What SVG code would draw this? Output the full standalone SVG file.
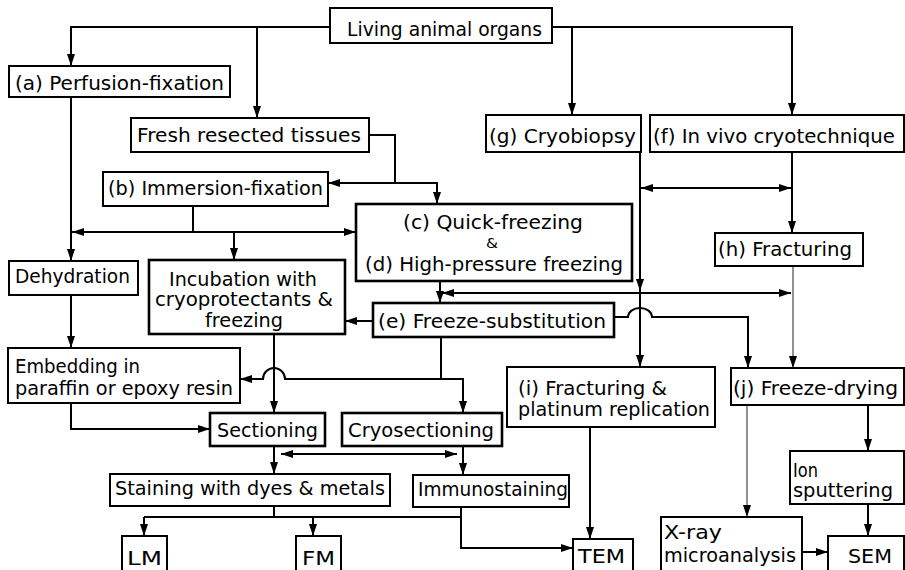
<svg xmlns="http://www.w3.org/2000/svg" width="905" height="570" viewBox="0 0 905 570">
  <defs>
    <marker id="arrow" viewBox="0 0 12 8" refX="12" refY="4" markerWidth="12" markerHeight="8" markerUnits="userSpaceOnUse" orient="auto-start-reverse">
      <path d="M0,0 L12,4 L0,8 z" fill="#000"/>
    </marker>
  </defs>
  <style>
    .box { fill: #fff; stroke: #000; stroke-width: 2; }
    .box.heavy { stroke-width: 2.6; }
    text { font-family: "DejaVu Sans", "Liberation Sans", sans-serif; font-size: 19px; fill: #000; }
    .amp { font-size: 14px; }
    .line { fill: none; stroke: #000; stroke-width: 2; }
    .thin { fill: none; stroke: #555; stroke-width: 1.3; }
    .end { marker-end: url(#arrow); }
    .both { marker-start: url(#arrow); marker-end: url(#arrow); }
  </style>

  <!-- connectors -->
  <g id="connectors">
    <path class="line end" d="M330,27 H71 V66"/>
    <path class="line end" d="M257,27 V118"/>
    <path class="line end" d="M552,27 H792 V115"/>
    <path class="line end" d="M572,27 V115"/>
    <path class="line end" d="M71,97 V261"/>
    <path class="line" d="M369,135 H395 V183"/>
    <path class="line both" d="M328,183 H437 V204"/>
    <path class="line" d="M193,206 V232"/>
    <path class="line both" d="M72,232 H356"/>
    <path class="line end" d="M234,232 V260"/>
    <path class="line end" d="M71,295 V348"/>
    <path class="line end" d="M274,334 V413"/>
    <path class="line end" d="M373,321 H345"/>
    <path class="line end" d="M440,281 V303"/>
    <path class="line" d="M441,337 V379"/>
    <path class="line both" d="M463,413 V379 H285 A11,11 0 0 0 263,379 H240"/>
    <path class="line end" d="M71,403 V429 H210"/>
    <path class="line end" d="M274,446 V474"/>
    <path class="line end" d="M463,446 V475"/>
    <path class="line both" d="M281,454 H457"/>
    <path class="line" d="M274,506 V517"/>
    <path class="line" d="M144,517 H461"/>
    <path class="line end" d="M144,517 V536"/>
    <path class="line end" d="M313,517 V536"/>
    <path class="line end" d="M461,507 V548 H573"/>
    <path class="line end" d="M590,427 V539"/>
    <path class="line end" d="M640,152 V367"/>
    <path class="line end" d="M640,270 V291"/>
    <path class="line both" d="M641,188 H791"/>
    <path class="line end" d="M792,152 V233"/>
    <path class="line both" d="M442,293 H791"/>
    <path class="thin end" d="M793,266 V368"/>
    <path class="line end" d="M614,317 H628 A12,9 0 0 1 652,317 H748 V368"/>
    <path class="thin end" d="M747,405 V517"/>
    <path class="line end" d="M868,405 V451"/>
    <path class="line end" d="M868,504 V536"/>
    <path class="line end" d="M802,552 H828"/>
  </g>

  <!-- nodes -->
  <g id="living">
    <rect class="box" x="330" y="8" width="222" height="35"/>
    <text x="347" y="36" textLength="195" lengthAdjust="spacingAndGlyphs">Living animal organs</text>
  </g>
  <g id="perfusion">
    <rect class="box" x="9" y="66" width="221" height="31"/>
    <text x="15" y="90" textLength="209" lengthAdjust="spacingAndGlyphs">(a) Perfusion-fixation</text>
  </g>
  <g id="fresh">
    <rect class="box" x="131" y="118" width="238" height="34"/>
    <text x="137" y="142" textLength="224" lengthAdjust="spacingAndGlyphs">Fresh resected tissues</text>
  </g>
  <g id="immersion">
    <rect class="box" x="103" y="172" width="225" height="34"/>
    <text x="108" y="195" textLength="215" lengthAdjust="spacingAndGlyphs">(b) Immersion-fixation</text>
  </g>
  <g id="dehydration">
    <rect class="box" x="9" y="261" width="129" height="34"/>
    <text x="15" y="283" textLength="115" lengthAdjust="spacingAndGlyphs">Dehydration</text>
  </g>
  <g id="incubation">
    <rect class="box heavy" x="149" y="260" width="196" height="74"/>
    <text x="169" y="286" textLength="148" lengthAdjust="spacingAndGlyphs">Incubation with</text>
    <text x="155" y="306" textLength="178" lengthAdjust="spacingAndGlyphs">cryoprotectants &amp;</text>
    <text x="205" y="327" textLength="78" lengthAdjust="spacingAndGlyphs">freezing</text>
  </g>
  <g id="embedding">
    <rect class="box" x="8" y="348" width="232" height="55"/>
    <text x="15" y="373" textLength="125" lengthAdjust="spacingAndGlyphs">Embedding in</text>
    <text x="15" y="395" textLength="218" lengthAdjust="spacingAndGlyphs">paraffin or epoxy resin</text>
  </g>
  <g id="quick-freezing">
    <rect class="box heavy" x="356" y="204" width="276" height="77"/>
    <text x="403" y="229" textLength="180" lengthAdjust="spacingAndGlyphs">(c) Quick-freezing</text>
    <text class="amp" x="486" y="248" textLength="12" lengthAdjust="spacingAndGlyphs">&amp;</text>
    <text x="365" y="271" textLength="258" lengthAdjust="spacingAndGlyphs">(d) High-pressure freezing</text>
  </g>
  <g id="cryobiopsy">
    <rect class="box" x="486" y="115" width="155" height="37"/>
    <text x="489" y="143" textLength="147" lengthAdjust="spacingAndGlyphs">(g) Cryobiopsy</text>
  </g>
  <g id="in-vivo">
    <rect class="box" x="650" y="115" width="254" height="37"/>
    <text x="653" y="143" textLength="242" lengthAdjust="spacingAndGlyphs">(f) In vivo cryotechnique</text>
  </g>
  <g id="fracturing">
    <rect class="box" x="715" y="233" width="148" height="33"/>
    <text x="718" y="256" textLength="134" lengthAdjust="spacingAndGlyphs">(h) Fracturing</text>
  </g>
  <g id="freeze-substitution">
    <rect class="box heavy" x="373" y="303" width="241" height="34"/>
    <text x="378" y="328" textLength="228" lengthAdjust="spacingAndGlyphs">(e) Freeze-substitution</text>
  </g>
  <g id="sectioning">
    <rect class="box heavy" x="210" y="413" width="115" height="33"/>
    <text x="217" y="437" textLength="101" lengthAdjust="spacingAndGlyphs">Sectioning</text>
  </g>
  <g id="cryosectioning">
    <rect class="box heavy" x="342" y="413" width="160" height="33"/>
    <text x="348" y="437" textLength="146" lengthAdjust="spacingAndGlyphs">Cryosectioning</text>
  </g>
  <g id="staining">
    <rect class="box" x="110" y="474" width="280" height="32"/>
    <text x="115" y="495" textLength="270" lengthAdjust="spacingAndGlyphs">Staining with dyes &amp; metals</text>
  </g>
  <g id="immunostaining">
    <rect class="box" x="413" y="475" width="156" height="32"/>
    <text x="418" y="496" textLength="150" lengthAdjust="spacingAndGlyphs">Immunostaining</text>
  </g>
  <g id="lm">
    <rect class="box" x="122" y="536" width="45" height="40"/>
    <text x="127" y="565" textLength="35" lengthAdjust="spacingAndGlyphs">LM</text>
  </g>
  <g id="fm">
    <rect class="box" x="296" y="536" width="45" height="40"/>
    <text x="302" y="565" textLength="33" lengthAdjust="spacingAndGlyphs">FM</text>
  </g>
  <g id="tem">
    <rect class="box" x="573" y="539" width="60" height="40"/>
    <text x="578" y="563" textLength="47" lengthAdjust="spacingAndGlyphs">TEM</text>
  </g>
  <g id="replication">
    <rect class="box" x="507" y="367" width="208" height="60"/>
    <text x="518" y="395" textLength="149" lengthAdjust="spacingAndGlyphs">(i) Fracturing &amp;</text>
    <text x="518" y="416" textLength="192" lengthAdjust="spacingAndGlyphs">platinum replication</text>
  </g>
  <g id="freeze-drying">
    <rect class="box" x="731" y="368" width="173" height="37"/>
    <text x="733" y="395" textLength="165" lengthAdjust="spacingAndGlyphs">(j) Freeze-drying</text>
  </g>
  <g id="ion-sputtering">
    <rect class="box" x="790" y="451" width="114" height="53"/>
    <text x="793" y="477" textLength="25" lengthAdjust="spacingAndGlyphs">Ion</text>
    <text x="793" y="497" textLength="100" lengthAdjust="spacingAndGlyphs">sputtering</text>
  </g>
  <g id="xray">
    <rect class="box" x="661" y="517" width="141" height="60"/>
    <text x="664" y="539" textLength="58" lengthAdjust="spacingAndGlyphs">X-ray</text>
    <text x="664" y="562" textLength="132" lengthAdjust="spacingAndGlyphs">microanalysis</text>
  </g>
  <g id="sem">
    <rect class="box" x="828" y="536" width="76" height="40"/>
    <text x="848" y="563" textLength="44" lengthAdjust="spacingAndGlyphs">SEM</text>
  </g>
</svg>
